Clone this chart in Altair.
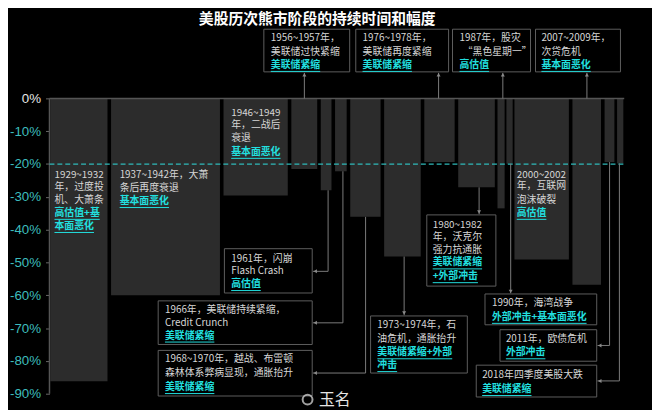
import altair as alt
import pandas as pd

# ---------------- data ----------------
periods = ["1929~1932", "1937~1942", "1946~1949", "1956~1957", "1961~1962", "1966",
           "1968~1970", "1973~1974", "1976~1978", "1980~1982", "1987", "1990",
           "2000~2002", "2007~2009", "2011", "2018"]
# duration of each bear market (months) = bar width
durations = [32, 61, 36, 14.5, 6, 6.5, 17, 20.5, 17, 20.5, 4, 3.5, 30.5, 16, 5.5, 3.5]
# spacing left before each bar (months)
gaps_before = [0.5, 2, 2, 2, 2, 2, 2, 2, 2, 2, 1.5, 1, 1, 2, 2, 1.5]
# peak-to-trough decline (%)
declines = [-86.2, -60.0, -29.6, -21.5, -28.0, -22.2, -36.1, -48.2, -19.4, -27.1,
            -33.5, -19.9, -49.1, -56.8, -19.4, -19.8]
y_ticks = [0, -10, -20, -30, -40, -50, -60, -70, -80, -90]
bear_threshold = -20
title_text = "美股历次熊市阶段的持续时间和幅度"

# ---------------- build tables ----------------
starts, ends, cur = [], [], 0.0
for d, g in zip(durations, gaps_before):
    cur += g
    starts.append(cur)
    cur += d
    ends.append(cur)
bars = pd.DataFrame({"period": periods, "start": starts, "end": ends,
                     "zero": 0.0, "decline": declines})
x_end = ends[-1] + 0.5

W, H = 590, 374
X_DOMAIN = [0, 326.5]
Y_DOMAIN = [-90, 22.6]
PX_X = W / (X_DOMAIN[1] - X_DOMAIN[0])
PX_Y = H / (Y_DOMAIN[1] - Y_DOMAIN[0])
XS = alt.Scale(domain=X_DOMAIN, nice=False, zero=False)
YS = alt.Scale(domain=Y_DOMAIN, nice=False, zero=False)

FONT = "Noto Sans CJK SC"
FS = 10

# annotation boxes (data units: months, percent)
boxes = pd.DataFrame([
    (120.1, 168.2, 21.1, 8.1),
    (171.6, 223.6, 21.1, 8.1),
    (225.8, 269.5, 21.1, 8.1),
    (272.3, 319.9, 21.1, 8.1),
    (211.4, 250.1, -35.5, -57.2),
    (98.0, 147.2, -45.8, -59.3),
    (60.9, 147.2, -61.7, -75.0),
    (60.9, 147.2, -76.8, -90.7),
    (179.9, 234.1, -66.3, -83.7),
    (244.0, 306.6, -59.6, -69.0),
    (252.4, 306.6, -70.5, -80.1),
    (239.1, 306.6, -81.3, -91.0),
], columns=["x", "x2", "y", "y2"])

# text lines: (x, y, text, is_cause)
lines = [
    (124.0, 18.4, "1956~1957年，", 0), (124.0, 14.2, "美联储过快紧缩", 0), (124.0, 10.2, "美联储紧缩", 1),
    (175.4, 18.4, "1976~1978年，", 0), (175.4, 14.2, "美联储再度紧缩", 0), (175.4, 10.2, "美联储紧缩", 1),
    (229.7, 18.4, "1987年，股灾", 0), (231.5, 14.2, "“黑色星期一”", 0), (229.7, 10.2, "高估值", 1),
    (275.6, 18.4, "2007~2009年，", 0), (275.6, 14.2, "次贷危机", 0), (275.6, 10.2, "基本面恶化", 1),
    (2.8, -23.2, "1929~1932", 0), (2.8, -27.1, "年，过度投", 0), (2.8, -31.0, "机、大萧条", 0),
    (2.8, -34.9, "高估值+基", 1), (2.8, -38.9, "本面恶化", 1),
    (39.3, -23.2, "1937~1942年，大萧", 0), (39.3, -27.4, "条后再度衰退", 0), (39.3, -31.3, "基本面恶化", 1),
    (101.8, -4.5, "1946~1949", 0), (101.8, -8.1, "年，二战后", 0), (101.8, -12.0, "衰退", 0),
    (101.8, -16.3, "基本面恶化", 1),
    (261.8, -23.2, "2000~2002", 0), (261.8, -26.8, "年，互联网", 0), (261.8, -31.0, "泡沫破裂", 0),
    (261.8, -34.9, "高估值", 1),
    (214.7, -38.6, "1980~1982", 0), (214.7, -42.2, "年，沃克尔", 0), (214.7, -46.1, "强力抗通胀", 0),
    (214.7, -50.0, "美联储紧缩", 1), (214.7, -54.2, "+外部冲击", 1),
    (101.8, -48.8, "1961年，闪崩", 0), (101.8, -52.7, "Flash Crash", 0), (101.8, -56.6, "高估值", 1),
    (64.7, -64.5, "1966年，美联储持续紧缩，", 0), (64.7, -68.4, "Credit Crunch", 0),
    (64.7, -72.3, "美联储紧缩", 1),
    (64.7, -79.5, "1968~1970年，越战、布雷顿", 0), (64.7, -83.7, "森林体系弊病显现，通胀抬升", 0),
    (64.7, -88.0, "美联储紧缩", 1),
    (183.7, -69.0, "1973~1974年，石", 0), (183.7, -73.2, "油危机，通胀抬升", 0),
    (183.7, -77.4, "美联储紧缩+外部", 1), (183.7, -81.3, "冲击", 1),
    (247.9, -62.3, "1990年，海湾战争", 0), (247.9, -66.6, "外部冲击+基本面恶化", 1),
    (255.7, -73.2, "2011年，欧债危机", 0), (255.7, -77.4, "外部冲击", 1),
    (242.4, -84.3, "2018年四季度美股大跌", 0), (242.4, -88.6, "美联储紧缩", 1),
]
texts = pd.DataFrame(lines, columns=["x", "y", "text", "cause"])
desc = texts[texts.cause == 0]
cause = texts[texts.cause == 1]


def text_px(s):
    return sum(FS if ord(c) > 255 else FS * 0.58 for c in s)


underl = pd.DataFrame({
    "x": cause.x.values,
    "x2": [x + text_px(t) / PX_X for x, t in zip(cause.x, cause.text)],
    "y": cause.y.values - 6.5 / PX_Y,
})

# connector lines (data units)
connectors = pd.DataFrame([
    (142.8, 0, 142.8, 7.8), (218.0, 0, 218.0, 7.8), (254.0, 0, 254.0, 7.8), (301.1, 0, 301.1, 7.8),
    (240.7, -27.1, 240.7, -35.3),
    (156.1, -28.0, 156.1, -52.7), (156.1, -52.7, 147.6, -52.7),
    (164.4, -22.2, 164.4, -68.4), (164.4, -68.4, 147.6, -68.4),
    (177.1, -36.1, 177.1, -83.7), (177.1, -83.7, 147.6, -83.7),
    (198.7, -48.2, 198.7, -66.1),
    (258.4, -19.9, 258.4, -59.4),
    (313.8, -19.4, 313.8, -75.3), (313.8, -75.3, 307.0, -75.3),
    (319.3, -19.8, 319.3, -86.1), (319.3, -86.1, 307.0, -86.1),
], columns=["x", "y", "x2", "y2"])

heads = pd.DataFrame([
    (142.8, 7.2, "triangle-up"), (218.0, 7.2, "triangle-up"), (254.0, 7.2, "triangle-up"),
    (301.1, 7.2, "triangle-up"),
    (240.7, -34.6, "triangle-down"), (198.7, -65.4, "triangle-down"), (258.4, -58.8, "triangle-down"),
    (148.9, -52.7, "triangle-left"), (148.9, -68.4, "triangle-left"), (148.9, -83.7, "triangle-left"),
    (308.3, -75.3, "triangle-left"), (308.3, -86.1, "triangle-left"),
], columns=["x", "y", "shape"])

# ---------------- layers ----------------
# the same axis definition is given to every layer so the merged axis stays enabled
y_axis = alt.Axis(values=y_ticks, labelExpr="datum.value + '%'",
                  labelColor=alt.condition("datum.value == 0", alt.value("#e6e6e6"), alt.value("#3dbdbd")),
                  labelFont="Liberation Sans", labelFontSize=13.5, labelPadding=5,
                  domain=False, ticks=True, tickSize=4, tickColor="#6a6a6a",
                  grid=False, title=None)


def enc_y(field):
    return alt.Y(field, scale=YS, axis=y_axis)


def enc_x(field):
    return alt.X(field, scale=XS, axis=None)


bar_layer = alt.Chart(bars).mark_rect(color="#2c2c2c").encode(
    x=enc_x("start:Q"), x2="end:Q",
    y=enc_y("zero:Q"), y2="decline:Q",
    tooltip=["period:N", "decline:Q"],
)

frame = pd.DataFrame([(0, 0, x_end, 0), (0, 0, 0, -90)], columns=["x", "y", "x2", "y2"])
frame_layer = alt.Chart(frame).mark_rule(color="#555555", strokeWidth=1.5).encode(
    x=enc_x("x:Q"), x2="x2:Q", y=enc_y("y:Q"), y2="y2:Q")

thr = pd.DataFrame({"x": [0], "x2": [x_end + 0.5], "y": [bear_threshold]})
thr_layer = alt.Chart(thr).mark_rule(color="#2fb9b9", strokeWidth=1.2, strokeDash=[5, 3]).encode(
    x=enc_x("x:Q"), x2="x2:Q", y=enc_y("y:Q"))

conn_layer = alt.Chart(connectors).mark_rule(color="#7c7c7c", strokeWidth=1).encode(
    x=enc_x("x:Q"), x2="x2:Q", y=enc_y("y:Q"), y2="y2:Q")

head_layer = alt.Chart(heads).mark_point(filled=True, size=16, color="#8a8a8a", opacity=1).encode(
    x=enc_x("x:Q"), y=enc_y("y:Q"),
    shape=alt.Shape("shape:N", scale=None))

box_layer = alt.Chart(boxes).mark_rect(fill="#000000", stroke="#5e5e5e", strokeWidth=1).encode(
    x=enc_x("x:Q"), x2="x2:Q", y=enc_y("y:Q"), y2="y2:Q")

desc_layer = alt.Chart(desc).mark_text(align="left", baseline="middle", font=FONT,
                                       fontSize=FS, color="#d6d6d6").encode(
    x=enc_x("x:Q"), y=enc_y("y:Q"), text="text:N")

cause_layer = alt.Chart(cause).mark_text(align="left", baseline="middle", font=FONT,
                                         fontSize=FS, fontWeight="bold", color="#22e0e0").encode(
    x=enc_x("x:Q"), y=enc_y("y:Q"), text="text:N")

ul_layer = alt.Chart(underl).mark_rule(color="#22e0e0", strokeWidth=1).encode(
    x=enc_x("x:Q"), x2="x2:Q", y=enc_y("y:Q"))

title_df = pd.DataFrame({"x": [150.0], "y": [24.1], "text": [title_text]})
title_layer = alt.Chart(title_df).mark_text(align="center", baseline="middle", font=FONT,
                                            fontSize=15, fontWeight="bold", color="#ffffff").encode(
    x=enc_x("x:Q"), y=enc_y("y:Q"), text="text:N")

wm_df = pd.DataFrame({"x": [151.0], "y": [-91.8], "text": ["玉名"]})
wm_layer = alt.Chart(wm_df).mark_text(align="left", baseline="middle", font=FONT,
                                      fontSize=16, color="#e6e6e6").encode(
    x=enc_x("x:Q"), y=enc_y("y:Q"), text="text:N")
logo_df = pd.DataFrame({"x": [144.6], "y": [-91.8]})
logo_layer = alt.Chart(logo_df).mark_point(shape="circle", size=100, filled=False,
                                           color="#e6e6e6", strokeWidth=2).encode(
    x=enc_x("x:Q"), y=enc_y("y:Q"))

chart = alt.layer(
    bar_layer, frame_layer, thr_layer, conn_layer, head_layer, box_layer,
    desc_layer, cause_layer, ul_layer, title_layer, wm_layer, logo_layer,
).properties(
    width=W, height=H,
    autosize=alt.AutoSizeParams(type="none"),
    padding={"left": 42, "top": 14, "right": 20, "bottom": 14},
    background="#000000",
).configure_view(stroke=None)

chart.save("out.html", embed_options={"renderer": "svg", "actions": False})
